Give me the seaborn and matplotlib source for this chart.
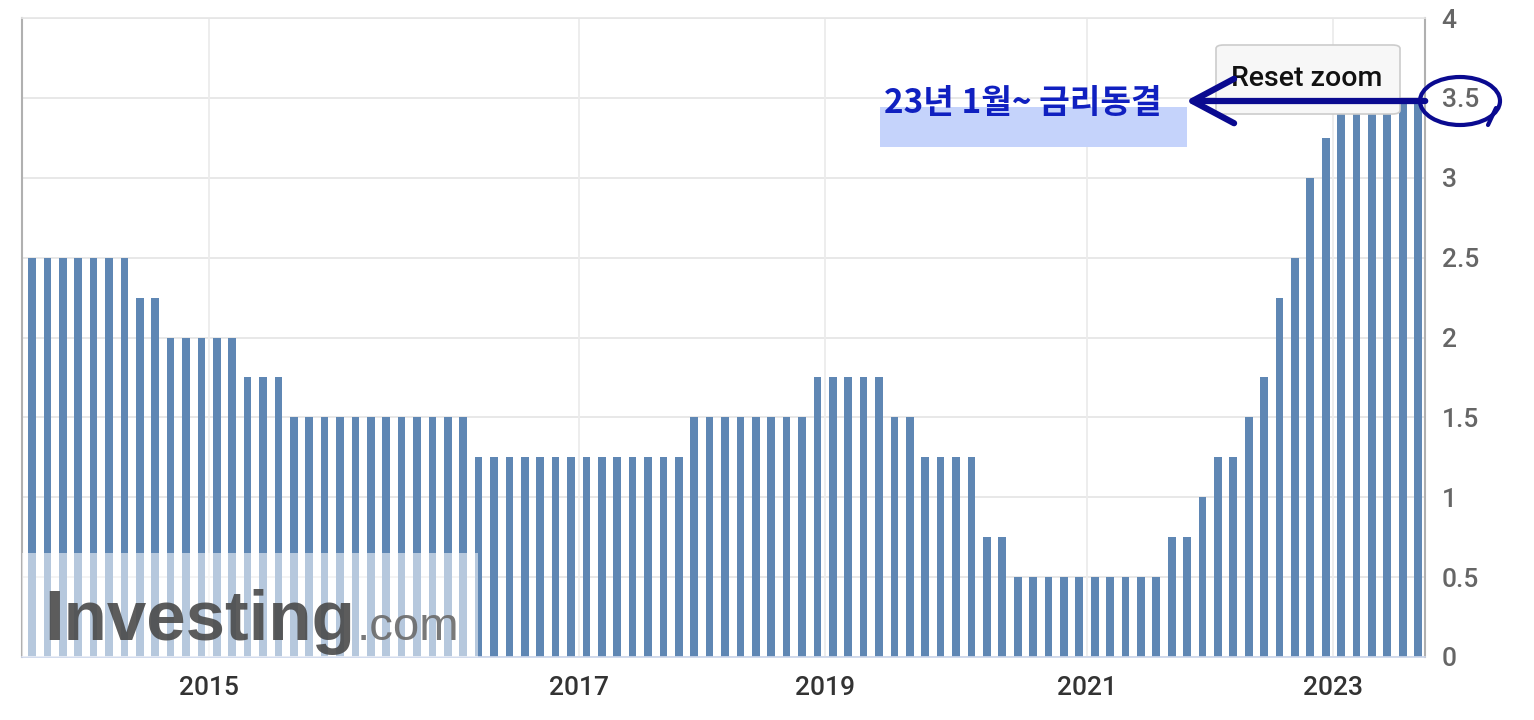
import matplotlib
matplotlib.use("Agg")
import matplotlib.pyplot as plt
import matplotlib.patches as mpatches
import seaborn as sns
import pandas as pd

# Bank of Korea base-rate decisions (meeting month, rate %)
meeting_dates = [
    "2014-01", "2014-02", "2014-03", "2014-04", "2014-05", "2014-06", "2014-07", "2014-08", "2014-09", "2014-10", "2014-11", "2014-12",
    "2015-01", "2015-02", "2015-03", "2015-04", "2015-05", "2015-06", "2015-07", "2015-08", "2015-09", "2015-10", "2015-11", "2015-12",
    "2016-01", "2016-02", "2016-03", "2016-04", "2016-05", "2016-06", "2016-07", "2016-08", "2016-09", "2016-10", "2016-11", "2016-12",
    "2017-01", "2017-02", "2017-04", "2017-05", "2017-07", "2017-08", "2017-10", "2017-11",
    "2018-01", "2018-02", "2018-04", "2018-05", "2018-07", "2018-08", "2018-10", "2018-11",
    "2019-01", "2019-02", "2019-04", "2019-05", "2019-07", "2019-08", "2019-10", "2019-11",
    "2020-01", "2020-02", "2020-03", "2020-04", "2020-05", "2020-07", "2020-08", "2020-10", "2020-11",
    "2021-01", "2021-02", "2021-04", "2021-05", "2021-07", "2021-08", "2021-10", "2021-11",
    "2022-01", "2022-02", "2022-04", "2022-05", "2022-07", "2022-08", "2022-10", "2022-11",
    "2023-01", "2023-02", "2023-04", "2023-05", "2023-07", "2023-08",
]
rates = [
    2.5, 2.5, 2.5, 2.5, 2.5, 2.5, 2.5, 2.25, 2.25, 2.0, 2.0, 2.0,
    2.0, 2.0, 1.75, 1.75, 1.75, 1.5, 1.5, 1.5, 1.5, 1.5, 1.5, 1.5,
    1.5, 1.5, 1.5, 1.5, 1.5, 1.25, 1.25, 1.25, 1.25, 1.25, 1.25, 1.25,
    1.25, 1.25, 1.25, 1.25, 1.25, 1.25, 1.25, 1.5,
    1.5, 1.5, 1.5, 1.5, 1.5, 1.5, 1.5, 1.75,
    1.75, 1.75, 1.75, 1.75, 1.5, 1.5, 1.25, 1.25,
    1.25, 1.25, 0.75, 0.75, 0.5, 0.5, 0.5, 0.5, 0.5,
    0.5, 0.5, 0.5, 0.5, 0.5, 0.75, 0.75, 1.0,
    1.25, 1.25, 1.5, 1.75, 2.25, 2.5, 3.0, 3.25,
    3.5, 3.5, 3.5, 3.5, 3.5, 3.5,
]
tick_years = ["2015", "2017", "2019", "2021", "2023"]
y_ticks = [0, 0.5, 1, 1.5, 2, 2.5, 3, 3.5, 4]
y_tick_labels = ["0", "0.5", "1", "1.5", "2", "2.5", "3", "3.5", "4"]

annot_text = "23년 1월~ 금리동결"
button_text = "Reset zoom"

df = pd.DataFrame({"date": meeting_dates, "rate": rates})

sns.set_theme(style="white")
plt.rcParams["font.family"] = ["Roboto", "DejaVu Sans"]

W, H = 1534, 720
fig = plt.figure(figsize=(W / 100, H / 100), dpi=100)
ax = fig.add_axes([22 / W, 1 - 657 / H, (1425 - 22) / W, (657 - 18) / H])

def fx(px):
    return px / W

def fy(py):
    return 1 - py / H

# grid
for yv in y_ticks:
    ax.axhline(yv, color="#e6e6e6", lw=1.3, zorder=0)
tick_pos = [meeting_dates.index(y + "-01") - 0.5 for y in tick_years]
for xv in tick_pos:
    ax.axvline(xv, color="#ececec", lw=1.3, zorder=0)

sns.barplot(data=df, x="date", y="rate", color="#5f87b4", saturation=1,
            width=0.5, ax=ax, zorder=2, edgecolor="none")

ax.set_xlim(-0.65, len(rates) - 0.55)
ax.set_ylim(0, 4)
ax.set_xticks(tick_pos)
ax.set_xticklabels(tick_years, fontsize=19, color="#333333", fontweight="medium")
ax.set_xlabel("")
ax.set_ylabel("")
ax.yaxis.tick_right()
ax.set_yticks(y_ticks)
ax.set_yticklabels(y_tick_labels, fontsize=19, color="#666666", fontweight="medium")
ax.tick_params(axis="x", length=0, pad=14)
ax.tick_params(axis="y", length=0, pad=12)

for side in ["left", "right", "top"]:
    ax.spines[side].set_visible(True)
ax.spines["left"].set_color("#b0b0b0")
ax.spines["right"].set_color("#b0b0b0")
ax.spines["top"].set_color("#e6e6e6")
ax.spines["bottom"].set_color("#ccd6eb")
ax.spines["left"].set_linewidth(1.5)
ax.spines["right"].set_linewidth(1.5)

# watermark
ax.add_patch(mpatches.Rectangle((0, 0), (478 - 22) / (1425 - 22), (657 - 553) / (657 - 18),
                                transform=ax.transAxes, facecolor="white", alpha=0.55,
                                edgecolor="none", zorder=3))
t1 = fig.text(fx(44), fy(640), "Investing", fontsize=51, fontweight="bold", color="#4a4a4a",
              family=["Liberation Sans", "DejaVu Sans"], alpha=0.9, zorder=4)
renderer = fig.canvas.get_renderer()
bb = t1.get_window_extent(renderer)
fig.text(bb.x1 / W + 0.001, fy(640), ".com", fontsize=34, color="#6a6a6a",
         family=["Liberation Sans", "DejaVu Sans"], alpha=0.9, zorder=4)

# highlight and annotation
fig.patches.append(mpatches.Rectangle((fx(880), fy(147)), fx(1187) - fx(880), fy(107) - fy(147),
                                      transform=fig.transFigure, facecolor="#c5d3fb",
                                      edgecolor="none", zorder=5))
fig.text(fx(884), fy(104), annot_text, fontsize=24, fontweight="bold", color="#1020c0",
         family=["Noto Sans CJK KR", "DejaVu Sans"], va="center", ha="left", zorder=6)

# reset zoom button
fig.patches.append(mpatches.FancyBboxPatch((fx(1216), fy(114)), fx(1400) - fx(1216), fy(45) - fy(114),
                                           boxstyle="round,pad=0,rounding_size=0.005",
                                           transform=fig.transFigure, facecolor="#f7f7f7",
                                           edgecolor="#cccccc", lw=1.2, zorder=5))
fig.text(fx(1307), fy(79), button_text, fontsize=20.5, color="#111111", ha="center", va="center",
         fontweight="medium", zorder=6)

# arrow (drawn on top of everything)
arrow = mpatches.FancyArrowPatch((1428, H - 101), (1183, H - 101), transform=None,
                                 arrowstyle="->,head_length=30,head_width=16",
                                 color="#0a0a90", lw=4.5, zorder=8, capstyle="round",
                                 joinstyle="round")
fig.add_artist(arrow)

# circle around 3.5 with a small tail
fig.add_artist(mpatches.Ellipse((fx(1460), fy(101)), fx(80), 48 / H, transform=fig.transFigure,
                                facecolor="none", edgecolor="#0a0a90", lw=3, zorder=8))
fig.add_artist(plt.Line2D([fx(1496), fx(1488)], [fy(108), fy(125)], transform=fig.transFigure,
                          color="#0a0a90", lw=3, zorder=8))

fig.savefig("out.png", dpi=100)
